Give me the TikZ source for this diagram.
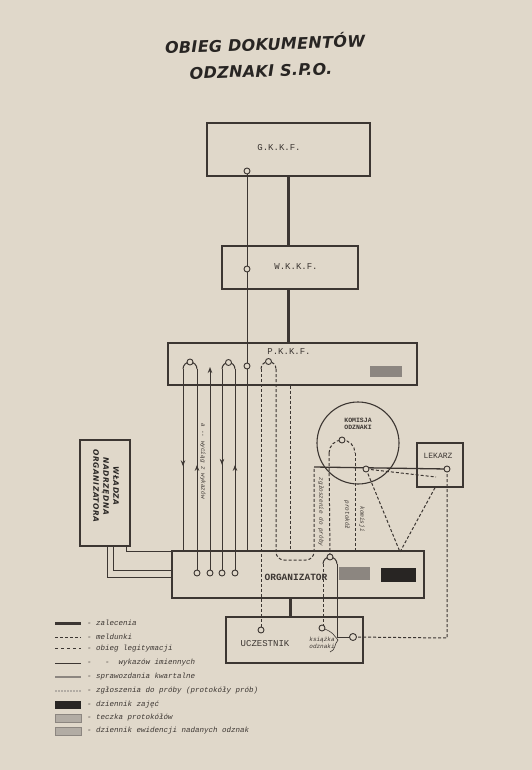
\documentclass[tikz,border=0pt]{standalone}
\usepackage{fontspec}
\setmonofont{Liberation Mono}
\newfontfamily\lettering{DejaVu Sans}[LetterSpace=8]
\newfontfamily\titlefont{DejaVu Sans}[LetterSpace=2]
\usetikzlibrary{calc,arrows.meta,positioning,decorations.markings}
\definecolor{paper}{RGB}{224,216,202}
\definecolor{ink}{RGB}{60,54,50}
\definecolor{inkgray}{RGB}{140,134,128}
\definecolor{inklight}{RGB}{178,172,164}
\definecolor{inkdark}{RGB}{40,37,35}
\tikzset{
  box/.style={draw=ink, line width=1.4pt, inner sep=0pt},
  knob/.style={circle, draw=ink, line width=0.9pt, fill=paper, inner sep=0pt, minimum size=6pt},
  flow/.style={ink, line width=1pt},
  heavy/.style={ink, line width=3pt},
  dashflow/.style={ink, line width=1pt, dash pattern=on 3pt off 2pt},
  typed/.style={font=\ttfamily\fontsize{9}{10}\selectfont, text=ink, inner sep=1pt},
  tiny/.style={font=\ttfamily\itshape\fontsize{6}{7}\selectfont, text=ink, inner sep=0pt},
  keytext/.style={font=\ttfamily\itshape\fontsize{7.5}{9}\selectfont, text=ink, anchor=west, inner sep=0pt},
  arrowat/.style={postaction={decorate}, decoration={markings,
      mark=at position #1 with {\arrow{Stealth[length=6pt,width=4.5pt]}}}}
}
\begin{document}
\begin{tikzpicture}[x=1pt,y=-1pt]
    \useasboundingbox (0,0) rectangle (532,770);
    \fill[paper] (0,0) rectangle (532,770);
    % title
    \node[font=\titlefont\bfseries\itshape\fontsize{16}{18}\selectfont, text=inkdark, rotate=2] (titleA) at (265,43) {OBIEG DOKUMENTÓW};
    \node[font=\titlefont\bfseries\itshape\fontsize{16}{18}\selectfont, text=inkdark, rotate=2] (titleB) at (261,71) {ODZNAKI S.P.O.};
    % boxes
    \node[box, minimum width=163pt, minimum height=53pt] (gkkf) at (288.5,149.5) {};
    \node[typed] (gkkfname) at (279,148) {G.K.K.F.};
    \node[box, minimum width=136pt, minimum height=43pt] (wkkf) at (290,267.5) {};
    \node[typed] (wkkfname) at (296,267) {W.K.K.F.};
    \node[box, minimum width=249pt, minimum height=42pt] (pkkf) at (292.5,364) {};
    \node[typed] (pkkfname) at (289,352) {P.K.K.F.};
    \node[fill=inkgray, minimum width=32pt, minimum height=11pt, inner sep=0pt] (pkkfbook) at (386,371.5) {};
    \node[box, minimum width=50pt, minimum height=106pt] (wladza) at (105,493) {};
    \node[font=\lettering\bfseries\itshape\fontsize{7.5}{10}\selectfont, text=inkdark, rotate=-90, align=center] (wladzaname) at (106,486) {WŁADZA\\NADRZĘDNA\\ORGANIZATORA};
    \node[circle, draw=ink, line width=1.1pt, minimum size=82pt, inner sep=0pt] (komisja) at (358,443) {};
    \node[typed, font=\ttfamily\bfseries\fontsize{6.5}{7.5}\selectfont, align=center] (komisjaname) at (358,424) {KOMISJA\\ODZNAKI};
    \node[box, minimum width=46pt, minimum height=44pt] (lekarz) at (440,465) {};
    \node[typed, font=\ttfamily\fontsize{8}{9}\selectfont] (lekarzname) at (438,456) {LEKARZ};
    \node[box, minimum width=252pt, minimum height=47pt] (organizator) at (298,574.5) {};
    \node[typed, font=\ttfamily\bfseries\fontsize{9.5}{10}\selectfont] (organizatorname) at (296,577) {ORGANIZATOR};
    \node[fill=inkgray, minimum width=31pt, minimum height=13pt, inner sep=0pt] (protokoly) at (354.5,573.5) {};
    \node[fill=inkdark, minimum width=35pt, minimum height=14pt, inner sep=0pt] (zajecia) at (398.5,575) {};
    \node[box, minimum width=137pt, minimum height=46pt] (uczestnik) at (294.5,640) {};
    \node[typed] (uczestnikname) at (265,644) {UCZESTNIK};
    \node[tiny, align=center] (ksiazka) at (322,643) {książka\\odznaki};
    % vertical captions
    \node[tiny, rotate=-90] (wyciag) at (203,461) {a -- wyciąg z wykazów};
    \node[tiny, rotate=-90] (zgloszenie) at (321,512) {zgłoszenie do próby};
    \node[tiny, rotate=-90] (protokol) at (347,515) {protokół};
    \node[tiny, rotate=-90] (komisji) at (362,519) {komisji};
    % main line
    \draw[heavy] (gkkf.south) -- (gkkf.south |- wkkf.north);
    \draw[heavy] (gkkf.south |- wkkf.south) -- (gkkf.south |- pkkf.north);
    \coordinate (gk) at (247,171);
    \coordinate (wk) at (247,269);
    \draw[flow] (gk) -- (wk);
    \draw[flow] (wk) -- (247,366);
    \draw[flow] (247,366) -- (247,551);
    % loops from P.K.K.F.
    \draw[flow] (183,369) arc[start angle=180,end angle=360,radius=7];
    \draw[flow, arrowat=0.4] (183,369) -- (183,551) -- (126,551) -- (wladza.south -| 126,0);
    \draw[flow, arrowat=0.53] (197,573) -- (197,369);
    \draw[flow, -{Stealth[length=6pt,width=4.5pt]}] (210,573) -- (210,367);
    \draw[flow] (222,369) arc[start angle=180,end angle=360,radius=6.5];
    \draw[flow, arrowat=0.47] (222,369) -- (222,573);
    \draw[flow, arrowat=0.53] (235,573) -- (235,369);
    \draw[dashflow] (261,369) arc[start angle=180,end angle=360,radius=7.5];
    \draw[dashflow] (261,369) -- (261,630);
    \draw[dashflow, rounded corners=8pt] (276,369) -- (276,560) -- (314,560) -- (314,467);
    \draw[flow, line width=1.3pt] (314,467) -- (447,469);
    \draw[dashflow] (pkkf.south -| 290,0) -- (organizator.north -| 290,0);
    \draw[heavy] (organizator.south -| 290,0) -- (uczestnik.north -| 290,0);
    % komisja
    \draw[dashflow] (329,453) arc[start angle=180,end angle=360,radius=13];
    \draw[dashflow] (329,453) -- (330,557);
    \draw[dashflow] (355,453) -- (organizator.north -| 355,0);
    \draw[dashflow] (366,469) -- (436,477);
    \draw[dashflow] (366,469) -- (400,552);
    \draw[dashflow] (lekarz.south -| 435,0) -- (400,552);
    \draw[dashflow] (447,469) -- (447,638) -- (353,637);
    % organizator to uczestnik
    \draw[flow] (323,564) arc[start angle=180,end angle=360,radius=7];
    \draw[dashflow] (323,564) -- (323,628);
    \draw[flow] (337,564) -- (337,637) -- (353,637);
    \draw[flow, line width=0.6pt] (322,628) .. controls (334,632) and (334,636) .. (338,640) .. controls (334,644) and (336,650) .. (330,652);
    % wladza
    \draw[flow] (wladza.south -| 107,0) -- (107,577) -- (organizator.west |- 0,577);
    \draw[flow] (wladza.south -| 113,0) -- (113,570) -- (organizator.west |- 0,570);
    % knobs
    \node[knob] (gkknob) at (gk) {};
    \node[knob] (wkknob) at (wk) {};
    \node[knob] (pk1) at (190,362) {};
    \node[knob] (pk2) at (228.5,362.5) {};
    \node[knob] (pk3) at (247,366) {};
    \node[knob] (pk4) at (268.5,361.5) {};
    \node[knob] (o1) at (197,573) {};
    \node[knob] (o2) at (210,573) {};
    \node[knob] (o3) at (222,573) {};
    \node[knob] (o4) at (235,573) {};
    \node[knob] (komknob) at (342,440) {};
    \node[knob] (midknob) at (366,469) {};
    \node[knob] (lekknob) at (447,469) {};
    \node[knob] (orgknob) at (330,557) {};
    \node[knob] (ucz1) at (261,630) {};
    \node[knob] (ucz2) at (322,628) {};
    \node[knob, minimum size=7pt] (ucz3) at (353,637) {};
    % legend
    \draw[heavy] (55,623) -- (81,623);
    \draw[dashflow] (55,637) -- (81,637);
    \draw[ink, dashed, double=paper, double distance=0.8pt, line width=0.6pt] (55,649) -- (81,649);
    \draw[flow] (55,663) -- (81,663);
    \draw[inkgray, line width=2.5pt] (55,677) -- (81,677);
    \draw[inklight, line width=2pt, dash pattern=on 2pt off 1pt] (55,691) -- (81,691);
    \node[fill=inkdark, minimum width=26pt, minimum height=8pt, inner sep=0pt] (keyzaj) at (68,705) {};
    \node[fill=inklight, draw=inkgray, minimum width=26pt, minimum height=8pt, inner sep=0pt] (keyprot) at (68,718) {};
    \node[fill=inklight, draw=inkgray, minimum width=26pt, minimum height=8pt, inner sep=0pt] (keyewid) at (68,731) {};
    \node[keytext] (key1) at (87,623) {- zalecenia};
    \node[keytext] (key2) at (87,637) {- meldunki};
    \node[keytext] (key3) at (87,649) {- obieg legitymacji};
    \node[keytext] (key4) at (87,663) {-~~~-~~wykazów imiennych};
    \node[keytext] (key5) at (87,677) {- sprawozdania kwartalne};
    \node[keytext] (key6) at (87,691) {- zgłoszenia do próby (protokóły prób)};
    \node[keytext] (key7) at (87,705) {- dziennik zajęć};
    \node[keytext] (key8) at (87,718) {- teczka protokółów};
    \node[keytext] (key9) at (87,731) {- dziennik ewidencji nadanych odznak};
\end{tikzpicture}
\end{document}
